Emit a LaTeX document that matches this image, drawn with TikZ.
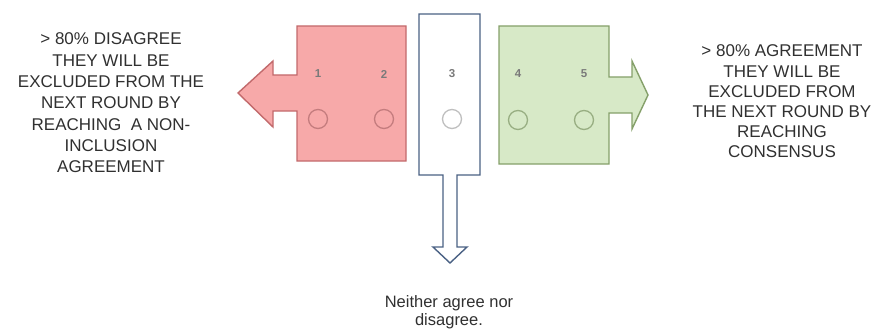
\documentclass[tikz,border=0pt]{standalone}
\usepackage{fontspec}
\setmainfont{Liberation Sans}
\definecolor{redfill}{HTML}{F7A9A9}
\definecolor{redline}{HTML}{C26A6C}
\definecolor{redcirc}{HTML}{C47C7E}
\definecolor{greenfill}{HTML}{D7E9C7}
\definecolor{greenline}{HTML}{85A06A}
\definecolor{greencirc}{HTML}{98AE82}
\definecolor{blueline}{HTML}{4A6184}
\definecolor{txt}{HTML}{303030}
\definecolor{digit}{HTML}{7A7A7A}
\tikzset{
  shapeline/.style={line width=1.4pt, line join=miter},
  bigtext/.style={font=\fontsize{17}{21.3}\selectfont, text=txt, align=center, inner sep=0pt},
  digitlabel/.style={font=\fontsize{11.5}{13}\selectfont\bfseries, text=digit, inner sep=0pt},
  optcircle/.style={circle, minimum size=19pt, inner sep=0pt, line width=1.3pt},
}
\begin{document}
\begin{tikzpicture}[x=1pt,y=-1pt]
\useasboundingbox (0,0) rectangle (873,329);
% red (disagree) arrow
\draw[shapeline, draw=redline, fill=redfill]
  (406,26) -- (297,26) -- (297,75) -- (273,75) -- (273,61) -- (238,93)
  -- (273,127) -- (273,111) -- (297,111) -- (297,161) -- (406,161) -- cycle;
% green (agree) arrow
\draw[shapeline, draw=greenline, fill=greenfill]
  (499,26) -- (609,26) -- (609,77) -- (632,77) -- (632,61) -- (648,95)
  -- (632,129) -- (632,113) -- (609,113) -- (609,164) -- (499,164) -- cycle;
% blue (neutral) arrow
\draw[shapeline, draw=blueline, fill=white]
  (419,14) -- (480,14) -- (480,175) -- (457,175) -- (457,247) -- (467,247)
  -- (450,263) -- (433,247) -- (443,247) -- (443,175) -- (419,175) -- cycle;
% digits
\node[digitlabel] (d1) at (318,74) {1};
\node[digitlabel] (d2) at (384,74) {2};
\node[digitlabel] (d3) at (452,74) {3};
\node[digitlabel] (d4) at (518,74) {4};
\node[digitlabel] (d5) at (584,74) {5};
% circles
\node[optcircle, draw=redcirc] (c1) at (318,119) {};
\node[optcircle, draw=redcirc] (c2) at (384,119) {};
\node[optcircle, draw=black!25] (c3) at (452,119) {};
\node[optcircle, draw=greencirc] (c4) at (518,120) {};
\node[optcircle, draw=greencirc] (c5) at (584,120) {};
% texts
\node[bigtext] (lefttext) at (111,103) {> 80\% DISAGREE\\THEY WILL BE\\EXCLUDED FROM THE\\NEXT ROUND BY\\REACHING\ \ A NON-\\INCLUSION\\AGREEMENT};
\node[bigtext, font=\fontsize{17}{20.2}\selectfont] (righttext) at (782,101.5) {> 80\% AGREEMENT\\THEY WILL BE\\EXCLUDED FROM\\THE NEXT ROUND BY\\REACHING\\CONSENSUS};
\node[bigtext, font=\fontsize{16.5}{17.5}\selectfont] (bottomtext) at (449,312) {Neither agree nor\\disagree.};
\end{tikzpicture}
\end{document}
